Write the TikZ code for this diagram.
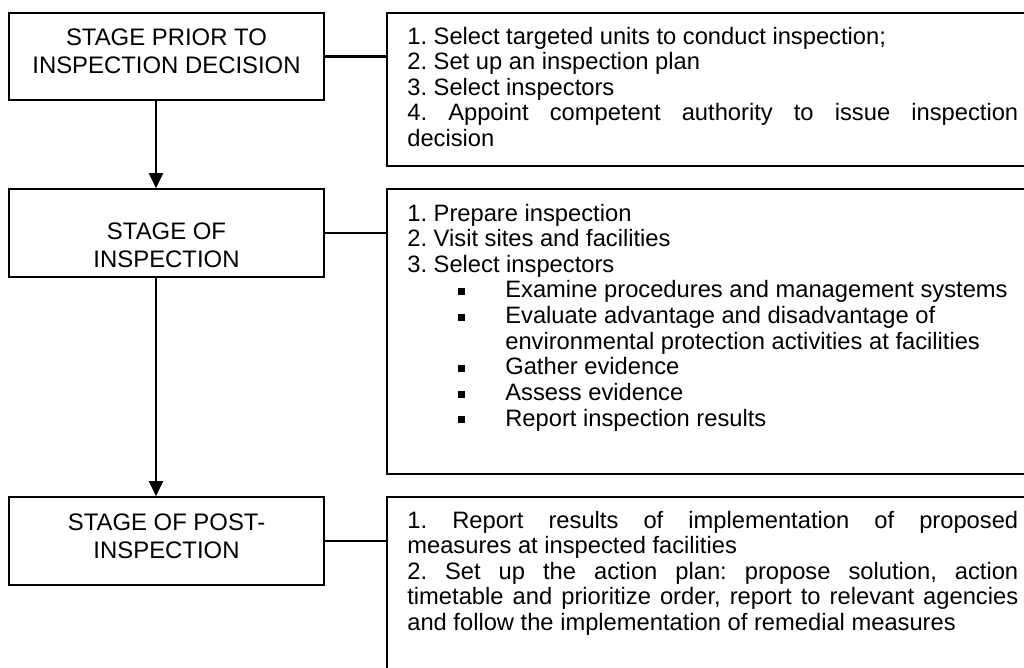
\documentclass[tikz,border=0pt]{standalone}
\usepackage{fontspec}
\setmainfont{Liberation Sans}
\usetikzlibrary{arrows.meta}

\tikzset{
  fase/.style={draw, line width=1.2pt, minimum width=6.3cm, minimum height=1.75cm, inner sep=0pt},
  fasetesto/.style={align=center, font=\fontsize{13.6pt}{15.4pt}\selectfont, inner sep=0pt, anchor=base},
  elenco/.style={draw, line width=1.2pt, minimum width=13.14cm, inner sep=0pt},
  elencotesto/.style={text width=12.22cm, align=justify, font=\fontsize{13.5pt}{14.6pt}\selectfont\frenchspacing, inner sep=0pt, anchor=base west},
  freccia/.style={line width=1.2pt, -{Triangle[width=0.28cm,length=0.3cm]}},
  linea/.style={line width=1.2pt}
}
\newcommand\quadretto{\hspace*{1.02cm}\makebox[0.94cm][l]{\raisebox{0.06cm}{\rule{0.14cm}{0.14cm}}}}

\begin{document}
\begin{tikzpicture}[x=0.02cm, y=-0.02cm]
    \useasboundingbox (0,0) rectangle (1024,667);

    % Fasi
    \node[fase] (s1) at (166.5,56.5) {};
    \node[fase] (s2) at (166.5,233) {};
    \node[fase] (s3) at (166.5,541) {};
    \node[fasetesto] (t1) at (166.5,73) {STAGE PRIOR TO\\INSPECTION DECISION};
    \node[fasetesto] (t2) at (166.5,267) {STAGE OF\\INSPECTION};
    \node[fasetesto] (t3) at (166.5,558) {STAGE OF POST-\\INSPECTION};

    % Riquadri a destra
    \node[elenco, minimum height=3.06cm] (r1) at (715.5,89.5) {};
    \node[elenco, minimum height=5.7cm] (r2) at (715.5,331.5) {};
    \node[elenco, minimum height=4.06cm] (r3) at (715.5,598.5) {};

    \node[elencotesto] (a1) at (407,44) {%
        1. Select targeted units to conduct inspection;\\
        2. Set up an inspection plan\\
        3. Select inspectors\\
        4. Appoint competent authority to issue inspection\linebreak
        decision};
    \node[elencotesto] (a2) at (407,221) {%
        1. Prepare inspection\\
        2. Visit sites and facilities\\
        3. Select inspectors\\
        \quadretto Examine procedures and management systems\\
        \quadretto Evaluate advantage and disadvantage of\\
        \hspace*{1.96cm}environmental protection activities at facilities\\
        \quadretto Gather evidence\\
        \quadretto Assess evidence\\
        \quadretto Report inspection results};
    \node[elencotesto] (a3) at (407,528) {%
        1. Report results of implementation of proposed\linebreak
        measures at inspected facilities\\
        2. Set up the action plan: propose solution, action\linebreak
        timetable and prioritize order, report to relevant agencies\linebreak
        and follow the implementation of remedial measures};

    % Frecce
    \draw[freccia] ([xshift=-0.21cm]s1.south) -- ([xshift=-0.21cm]s2.north);
    \draw[freccia] ([xshift=-0.21cm]s2.south) -- ([xshift=-0.21cm]s3.north);

    % Collegamenti
    \draw[linea] (s1.east) -- (s1.east -| r1.west);
    \draw[linea] (s2.east) -- (s2.east -| r2.west);
    \draw[linea] (s3.east) -- (s3.east -| r3.west);

\end{tikzpicture}
\end{document}
